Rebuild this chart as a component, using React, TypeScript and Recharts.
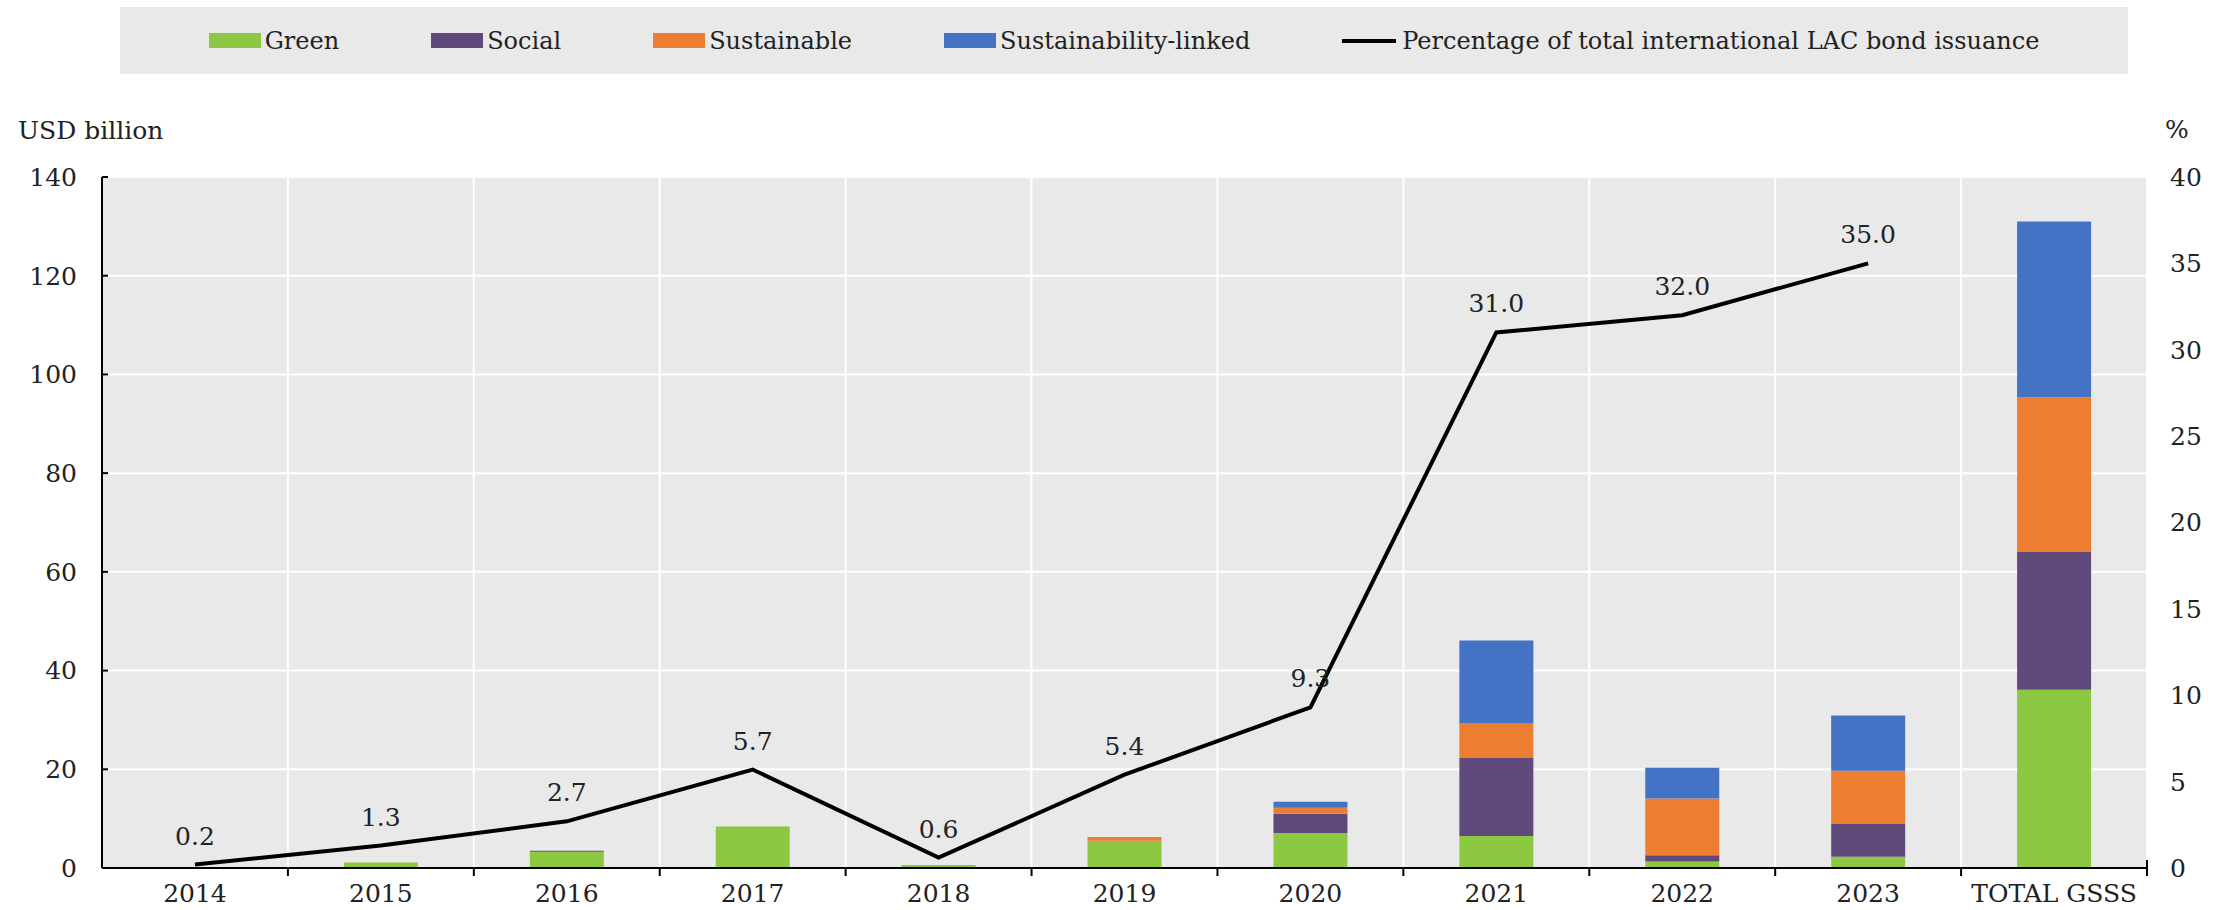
import { ComposedChart, Bar, Line, XAxis, YAxis, CartesianGrid, LabelList } from 'recharts';

const categories = ['2014', '2015', '2016', '2017', '2018', '2019', '2020', '2021', '2022', '2023', 'TOTAL GSSS'];
const green = [0, 1.1, 3.3, 8.4, 0.6, 5.5, 7.1, 6.5, 1.3, 2.3, 36.1];
const social = [0, 0, 0.2, 0, 0, 0, 3.9, 15.8, 1.3, 6.6, 27.9];
const sustainable = [0, 0, 0, 0, 0, 0.8, 1.2, 7.0, 11.5, 10.8, 31.4];
const linked = [0, 0, 0, 0, 0, 0, 1.2, 16.8, 6.2, 11.2, 35.6];
const share = [0.2, 1.3, 2.7, 5.7, 0.6, 5.4, 9.3, 31.0, 32.0, 35.0, null];
const usdTicks = [0, 20, 40, 60, 80, 100, 120, 140];
const pctTicks = [0, 5, 10, 15, 20, 25, 30, 35, 40];

const data = categories.map((year, i) => ({
  year,
  green: green[i],
  social: social[i],
  sustainable: sustainable[i],
  linked: linked[i],
  share: share[i],
}));

const COLORS = {
  green: '#8cc841',
  social: '#604a7b',
  sustainable: '#ed7d31',
  linked: '#4472c4',
};

const FONT = '"DejaVu Serif", "Liberation Serif", serif';
const FS = 25;
const INK = '#222';
const W = 2224;
const H = 910;
const margin = { top: 177, right: 17, bottom: 2, left: 42 };
const AXIS_W = 60;
const X_AXIS_H = 40;
const PLOT_W = W - margin.left - margin.right - 2 * AXIS_W;
const TICK_LEN = 8;
const TICK_GAP = 8;

const legendItems = [
  { label: 'Green', color: COLORS.green },
  { label: 'Social', color: COLORS.social },
  { label: 'Sustainable', color: COLORS.sustainable },
  { label: 'Sustainability-linked', color: COLORS.linked },
];

// category label plus a small tick on the band edges
function YearTick(props: any) {
  const { x, y, payload, index } = props;
  const band = PLOT_W / categories.length;
  const axisY = y - TICK_LEN - TICK_GAP;
  const left = x - band / 2;
  return (
    <g>
      {index > 0 && <line x1={left} x2={left} y1={axisY} y2={axisY + TICK_LEN} stroke="#000" strokeWidth={2} />}
      {index === categories.length - 1 && (
        <line x1={x + band / 2} x2={x + band / 2} y1={axisY - 8} y2={axisY + TICK_LEN} stroke="#000" strokeWidth={2} />
      )}
      <text x={x} y={y} dy="0.71em" textAnchor="middle" fontFamily={FONT} fontSize={FS} fill={INK}>
        {payload.value}
      </text>
    </g>
  );
}

function TotalLabel(props: any) {
  const { x, y, width, index } = props;
  if (index !== categories.length - 1) return null;
  const total = green[index] + social[index] + sustainable[index] + linked[index];
  return (
    <text x={x + width / 2} y={y - 13} textAnchor="middle" fontFamily='"Liberation Sans", Arial, sans-serif' fontSize={16} fill="#111">
      {`USD ${Math.round(total)} billion`}
    </text>
  );
}

export default function App() {
  return (
    <div style={{ position: 'absolute', left: 0, top: 0, width: W, height: H, background: '#fff', fontFamily: FONT, color: INK }}>
      <div
        style={{
          position: 'absolute',
          left: 120,
          top: 7,
          width: 2008,
          height: 67,
          background: '#e9e9e9',
          display: 'flex',
          alignItems: 'center',
          justifyContent: 'center',
          gap: 92,
          fontSize: 24,
        }}
      >
        {legendItems.map((it) => (
          <div key={it.label} style={{ display: 'flex', alignItems: 'center' }}>
            <span style={{ display: 'inline-block', width: 52, height: 15, background: it.color, marginRight: 4 }} />
            <span>{it.label}</span>
          </div>
        ))}
        <div style={{ display: 'flex', alignItems: 'center' }}>
          <span style={{ display: 'inline-block', width: 54, height: 4, background: '#000', marginRight: 6 }} />
          <span>Percentage of total international LAC bond issuance</span>
        </div>
      </div>
      <div style={{ position: 'absolute', left: 18, top: 116, fontSize: FS, lineHeight: '30px' }}>USD billion</div>
      <div style={{ position: 'absolute', left: 2165, top: 115, fontSize: FS, lineHeight: '30px' }}>%</div>
      <ComposedChart width={W} height={H} data={data} margin={margin} barSize={74}>
        <CartesianGrid
          yAxisId="usd"
          fill="#e9e9e9"
          stroke="#fff"
          strokeWidth={2}
          verticalCoordinatesGenerator={({ offset }: any) =>
            Array.from({ length: categories.length + 1 }, (_, i) => offset.left + (i * offset.width) / categories.length)
          }
        />
        <XAxis
          dataKey="year"
          height={X_AXIS_H}
          interval={0}
          tickLine={false}
          tickSize={TICK_LEN}
          tickMargin={TICK_GAP}
          axisLine={{ stroke: '#000', strokeWidth: 2 }}
          tick={<YearTick />}
        />
        <YAxis
          yAxisId="usd"
          width={AXIS_W}
          domain={[0, 140]}
          ticks={usdTicks}
          interval={0}
          tickSize={-6}
          tickMargin={31}
          tickLine={{ stroke: '#000', strokeWidth: 2 }}
          axisLine={{ stroke: '#000', strokeWidth: 2 }}
          tick={{ fontFamily: FONT, fontSize: FS, fill: INK }}
        />
        <YAxis
          yAxisId="pct"
          orientation="right"
          width={AXIS_W}
          domain={[0, 40]}
          ticks={pctTicks}
          interval={0}
          tickSize={0}
          tickMargin={23}
          tickLine={false}
          axisLine={false}
          tick={{ fontFamily: FONT, fontSize: FS, fill: INK, textAnchor: 'start' }}
        />
        <Bar yAxisId="usd" dataKey="green" stackId="gsss" fill={COLORS.green} isAnimationActive={false} />
        <Bar yAxisId="usd" dataKey="social" stackId="gsss" fill={COLORS.social} isAnimationActive={false} />
        <Bar yAxisId="usd" dataKey="sustainable" stackId="gsss" fill={COLORS.sustainable} isAnimationActive={false} />
        <Bar yAxisId="usd" dataKey="linked" stackId="gsss" fill={COLORS.linked} isAnimationActive={false}>
          <LabelList dataKey="linked" content={<TotalLabel />} />
        </Bar>
        <Line
          yAxisId="pct"
          dataKey="share"
          type="linear"
          stroke="#000"
          strokeWidth={4}
          dot={false}
          activeDot={false}
          isAnimationActive={false}
        >
          <LabelList
            dataKey="share"
            position="top"
            offset={20}
            fontFamily={FONT}
            fontSize={FS}
            fill={INK}
            formatter={(v: any) => (v == null ? '' : Number(v).toFixed(1))}
          />
        </Line>
      </ComposedChart>
    </div>
  );
}
